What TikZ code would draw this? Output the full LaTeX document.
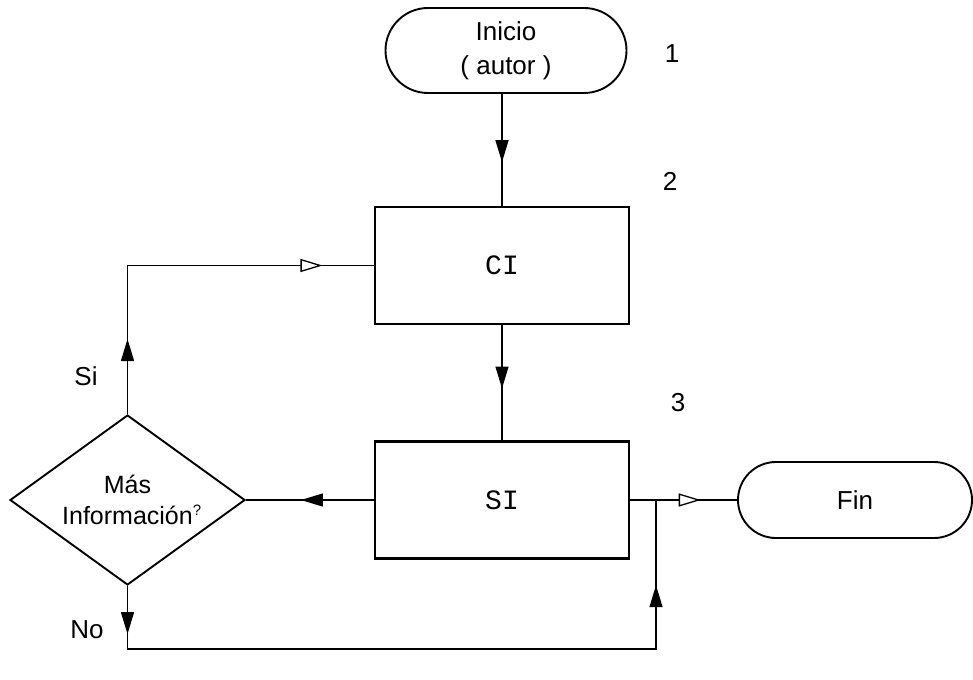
\documentclass[tikz,border=0pt]{standalone}
\usepackage{fontspec}
\setmainfont{Liberation Sans}
\newfontfamily\monof{Liberation Mono}
\usetikzlibrary{shapes.geometric,shapes.misc,arrows.meta,decorations.markings}
\begin{document}
\begin{tikzpicture}[x=1pt,y=-1pt,
  txt/.style={font=\fontsize{26}{34}\selectfont},
  box/.style={draw,line width=2.4pt,rectangle,minimum width=254pt,minimum height=117pt,inner sep=0pt,font=\monof\fontsize{28}{30}\selectfont},
  term/.style={draw,line width=1.9pt,rounded rectangle,inner sep=0pt,align=center,txt},
  dia/.style={draw,line width=1.9pt,diamond,aspect=1.38,inner sep=0pt,minimum width=235pt,minimum height=170pt,align=center,font=\fontsize{25}{31}\selectfont},
  conn/.style={line width=1.3pt},
  tipat/.style={postaction={decorate,decoration={markings,mark=at position #1 with {\arrow{Triangle[length=22pt,width=13pt]}}}}},
  otipat/.style={postaction={decorate,decoration={markings,mark=at position #1 with {\arrow{Triangle[length=22pt,width=13pt,fill=white]}}}}},
  lbl/.style={txt}]
\useasboundingbox (0,0) rectangle (973,679);
\node[term,minimum width=241pt,minimum height=85pt] (ini) at (506,50.5) {Inicio\\( autor )};
\node[box] (ci) at (502,265.5) {CI};
\node[box] (si) at (502,500) {SI};
\node[dia] (q) at (127.5,500) {Más\\Información\rlap{\raisebox{0.7ex}{\fontsize{15}{15}\selectfont ?}}};
\node[term,minimum width=234pt,minimum height=76pt] (fin) at (855,500) {Fin};
\node[lbl] (l1) at (672,54) {1};
\node[lbl] (l2) at (670,181) {2};
\node[lbl] (l3) at (678,403) {3};
\node[lbl] (lsi) at (86,376) {Si};
\node[lbl] (lno) at (87,630) {No};
\coordinate (j) at (656,500);
\coordinate (bl) at (127.5,649);
\draw[conn,tipat=0.61] (ini.south -| ci.north) -- (ci.north);
\draw[conn,tipat=0.55] (ci.south) -- (si.north);
\draw[conn,tipat=0.57] (si.west) -- (q.east);
\draw[conn,tipat=0.19,otipat=0.87] (q.north) |- (ci.west);
\draw[conn,tipat=0.065,tipat=0.885] (q.south) -- (bl) -| (j);
\draw[conn,otipat=0.66] (si.east) -- (fin.west);
\end{tikzpicture}
\end{document}
